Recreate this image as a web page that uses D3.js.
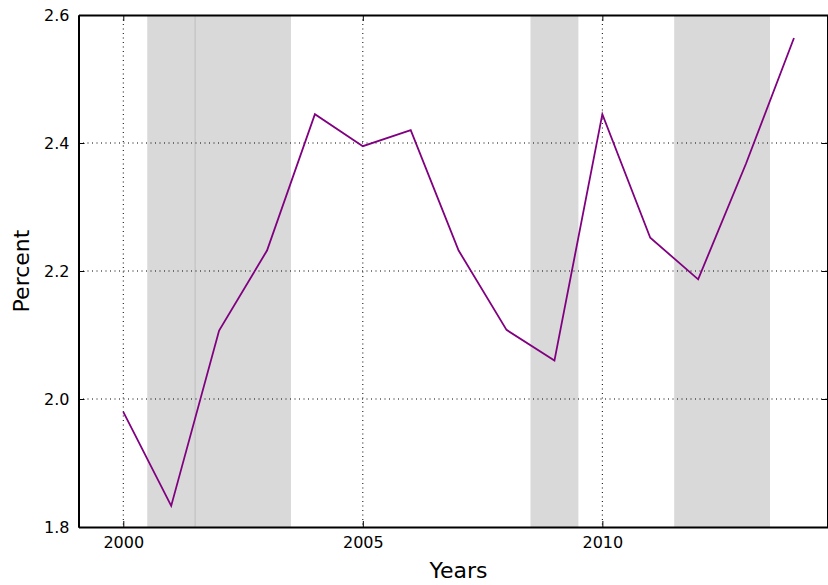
<!DOCTYPE html>
<html><head><meta charset="utf-8">
<script src="https://cdn.jsdelivr.net/npm/d3@7"></script>
<style>body{margin:0;background:#fff}svg{display:block}text{font-family:"DejaVu Sans",sans-serif}</style>
</head><body>
<svg id="c" width="828" height="585"></svg>
<script>
const years = [2000,2001,2002,2003,2004,2005,2006,2007,2008,2009,2010,2011,2012,2013,2014];
const percent = [1.980,1.833,2.107,2.232,2.445,2.395,2.420,2.232,2.108,2.060,2.445,2.252,2.187,2.368,2.564];
const spans = [[2000.5,2001.5],[2001.5,2003.5],[2008.5,2009.5],[2011.5,2013.5]];
const xTicks = [2000,2005,2010];
const yTicks = [1.8,2.0,2.2,2.4,2.6];

const svg = d3.select("#c");
const L=78.5, R=827.5, T=15, B=527;
const x = d3.scaleLinear().domain([1999.065,2014.7]).range([L,R]);
const y = d3.scaleLinear().domain([1.8,2.6]).range([B,T]);

// shaded spans
svg.append("g").selectAll("rect").data(spans).join("rect")
  .attr("x",d=>x(d[0])).attr("y",T).attr("width",d=>x(d[1])-x(d[0])).attr("height",B-T)
  .attr("fill","#d9d9d9");
svg.append("g").selectAll("line").data(spans).join("line")
  .attr("x1",d=>x(d[0])).attr("x2",d=>x(d[0])).attr("y1",T).attr("y2",B)
  .attr("stroke",(d,i)=>i==1?"#bdbdbd":"none").attr("stroke-width",1);

// grid
const grid = svg.append("g").attr("stroke","#000").attr("stroke-width",1).attr("stroke-dasharray","1,3.5");
grid.selectAll(".gx").data(xTicks).join("line").attr("x1",d=>x(d)).attr("x2",d=>x(d)).attr("y1",T).attr("y2",B);
grid.selectAll(".gy").data(yTicks.slice(1,-1)).join("line").attr("y1",d=>y(d)).attr("y2",d=>y(d)).attr("x1",L).attr("x2",R);

// line
svg.append("path").datum(years.map((d,i)=>[d,percent[i]]))
  .attr("fill","none").attr("stroke","#800080").attr("stroke-width",1.8)
  .attr("d",d3.line().x(d=>x(d[0])).y(d=>y(d[1])));

// axes
const fmt = d3.format(".1f");
const ax = svg.append("g").attr("transform",`translate(0,${B})`)
  .call(d3.axisBottom(x).tickValues(xTicks).tickFormat(d3.format("d")).tickSizeInner(-6).tickSizeOuter(0).tickPadding(10));
const ay = svg.append("g").attr("transform",`translate(${L},0)`)
  .call(d3.axisLeft(y).tickValues(yTicks).tickFormat(fmt).tickSizeInner(-6).tickSizeOuter(0).tickPadding(9));
const axt = svg.append("g").attr("transform",`translate(0,${T})`)
  .call(d3.axisTop(x).tickValues(xTicks).tickFormat("").tickSizeInner(-6).tickSizeOuter(0));
const ayr = svg.append("g").attr("transform",`translate(${R},0)`)
  .call(d3.axisRight(y).tickValues(yTicks).tickFormat("").tickSizeInner(-6).tickSizeOuter(0));
[ax,ay,axt,ayr].forEach(g=>{
  g.select(".domain").attr("stroke","#000").attr("stroke-width",2);
  g.selectAll(".tick line").attr("stroke","#000").attr("stroke-width",1);
  g.selectAll(".tick text").attr("fill","#000").style("font-size","16px");
});

svg.append("text").attr("x",458.5).attr("y",577.5).attr("text-anchor","middle")
  .style("font-size","22px").text("Years");
svg.append("text").attr("transform",`translate(28.5,${(T+B)/2})rotate(-90)`).attr("text-anchor","middle")
  .style("font-size","22px").text("Percent");
</script>
</body></html>
